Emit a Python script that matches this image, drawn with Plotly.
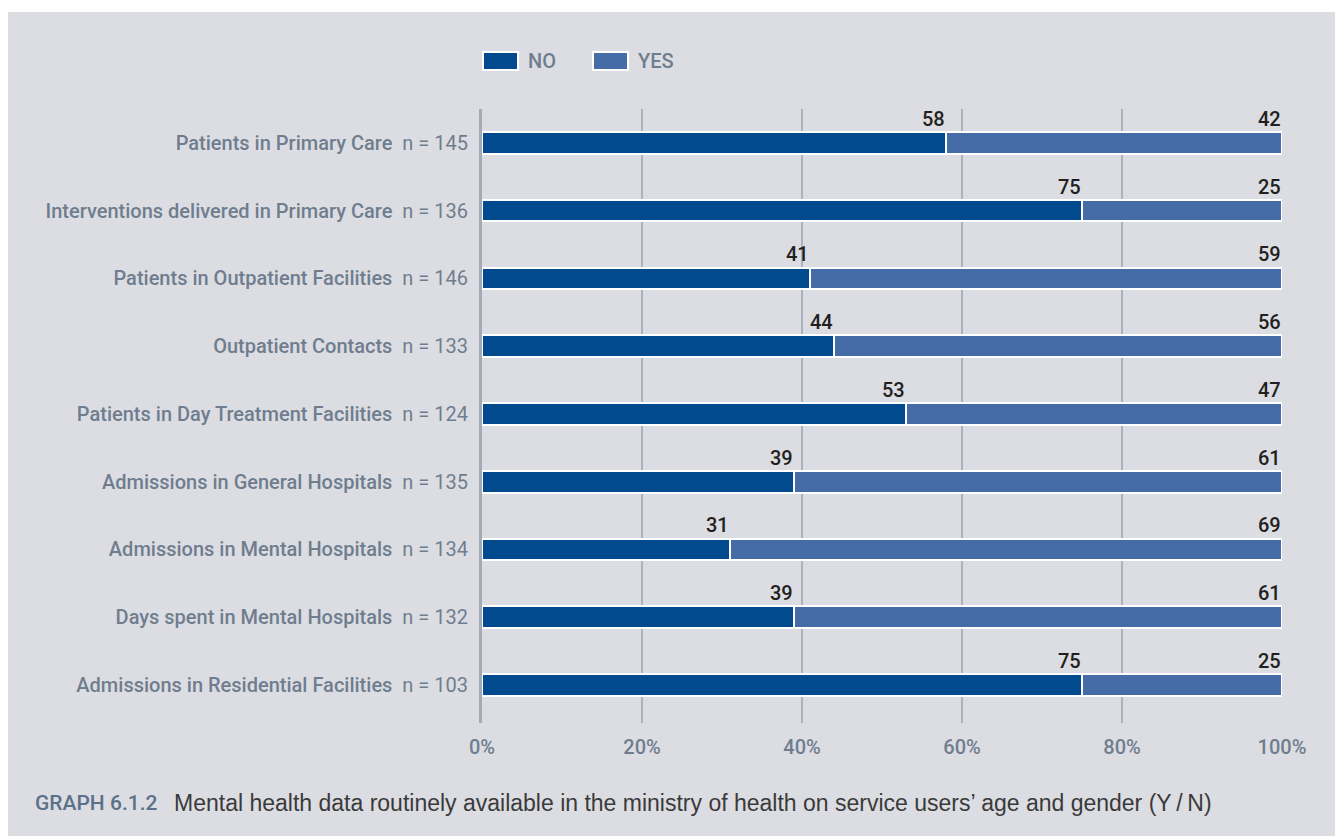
import plotly.graph_objects as go

categories = [
    "Patients in Primary Care",
    "Interventions delivered in Primary Care",
    "Patients in Outpatient Facilities",
    "Outpatient Contacts",
    "Patients in Day Treatment Facilities",
    "Admissions in General Hospitals",
    "Admissions in Mental Hospitals",
    "Days spent in Mental Hospitals",
    "Admissions in Residential Facilities",
]
n_values = [145, 136, 146, 133, 124, 135, 134, 132, 103]
no_values = [58, 75, 41, 44, 53, 39, 31, 39, 75]
yes_values = [42, 25, 59, 56, 47, 61, 69, 61, 25]
x_ticks = [0, 20, 40, 60, 80, 100]
x_tick_labels = ["0%", "20%", "40%", "60%", "80%", "100%"]

NO_COLOR = "#004a8d"
YES_COLOR = "#456ca7"
BG = "#dcdde2"
LABEL = "#6f7d8f"
FONT = "Roboto, sans-serif"

tick_text = [f"{c}  <span style='font-weight:400'>n = {n}</span>" for c, n in zip(categories, n_values)]

fig = go.Figure()
fig.add_trace(go.Bar(
    y=categories, x=no_values, orientation="h", name="NO",
    marker=dict(color=NO_COLOR, line=dict(color="white", width=2)),
    showlegend=False, hoverinfo="x+y",
))
fig.add_trace(go.Bar(
    y=categories, x=yes_values, orientation="h", name="YES",
    marker=dict(color=YES_COLOR, line=dict(color="white", width=2)),
    showlegend=False, hoverinfo="x+y",
))

value_font = dict(family=FONT, size=20, color="#231f20", weight=500)
annotations = []
for c, nv in zip(categories, no_values):
    annotations.append(dict(x=nv, y=c, xref="x", yref="y", text=str(nv),
                            showarrow=False, xanchor="right", yanchor="bottom",
                            yshift=10, xshift=1, font=value_font))
for c, nv, yv in zip(categories, no_values, yes_values):
    annotations.append(dict(x=nv + yv, y=c, xref="x", yref="y", text=str(yv),
                            showarrow=False, xanchor="right", yanchor="bottom",
                            yshift=10, xshift=1, font=value_font))

# custom legend
legend_items = [("NO", NO_COLOR, 0.00125, 0.045, 0.055), ("YES", YES_COLOR, 0.13875, 0.1825, 0.1925)]
shapes = [dict(type="rect", xref="paper", yref="paper", x0=-0.5925, x1=1.1, y0=-0.25, y1=1.158,
               fillcolor=BG, line=dict(width=0), layer="below")]
for name, col, x0, x1, xt in legend_items:
    shapes.append(dict(type="rect", xref="paper", yref="paper", x0=x0, x1=x1,
                       y0=1.0635, y1=1.0928, fillcolor=col,
                       line=dict(color="white", width=2)))
    annotations.append(dict(x=xt, y=1.078, xref="paper", yref="paper", text=name,
                            showarrow=False, xanchor="left", yanchor="middle",
                            font=dict(family=FONT, size=20, color=LABEL, weight=500)))

annotations.append(dict(x=-0.56125, y=-0.1303, xref="paper", yref="paper",
                        text="GRAPH 6.1.2", showarrow=False, xanchor="left", yanchor="middle",
                        font=dict(family=FONT, size=21, color="#5b7189", weight=500)))
annotations.append(dict(x=-0.3875, y=-0.1303, xref="paper", yref="paper",
                        text="Mental health data routinely available in the ministry of health on service users\u2019 age and gender (Y\u2009/\u2009N)",
                        showarrow=False, xanchor="left", yanchor="middle",
                        font=dict(family="Liberation Sans, Arial, sans-serif", size=23, color="#3a3a3a")))

fig.update_layout(
    width=1335, height=836,
    barmode="stack", bargap=0.68,
    paper_bgcolor="white", plot_bgcolor="rgba(0,0,0,0)",
    margin=dict(l=482, r=53, t=109, b=113, pad=0),
    showlegend=False,
    shapes=shapes, annotations=annotations,
    xaxis=dict(range=[0, 100], tickvals=x_ticks, ticktext=x_tick_labels,
               showgrid=True, gridcolor="#aab3bd", gridwidth=2, zeroline=False,
               showline=False, ticks="", ticklabelstandoff=10,
               tickfont=dict(family=FONT, size=20, color=LABEL, weight=500), fixedrange=True),
    yaxis=dict(autorange="reversed", tickvals=categories, ticktext=tick_text,
               showgrid=False, zeroline=False, showline=True, linecolor="#a3acb6", linewidth=3,
               ticks="", ticklabelstandoff=7,
               tickfont=dict(family=FONT, size=20, color=LABEL, weight=500), fixedrange=True),
)

fig.write_html("out.html", config={"displayModeBar": False},
               post_script="document.body.style.margin='0';document.body.style.overflow='hidden';")
